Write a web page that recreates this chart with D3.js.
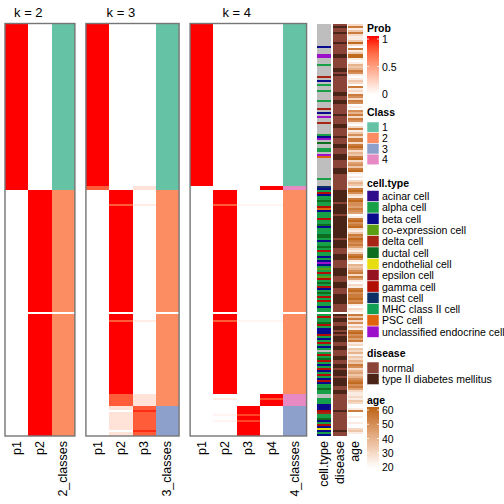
<!DOCTYPE html>
<html><head><meta charset="utf-8">
<script src="https://cdn.jsdelivr.net/npm/d3@7"></script>
<style>body{margin:0;background:#fff}svg{display:block}text{font-family:"Liberation Sans",Arial,sans-serif;fill:#000}</style>
</head><body><svg id="c" width="504" height="504"></svg>
<script>
// ---------- data ----------
const ks = [2, 3, 4];
const patternIds = ["A","B","C","D","E","F","G","H","I","Z"];
const k2Prob = [[1,0],[1,0],[0,1],[0,1],[0,1],[0,1],[0,1],[0,1],[0,1],null];
const k2Class = [1,1,2,2,2,2,2,2,2,null];
const k3Prob = [[1,0,0],[0.8,0,0.15],[0,1,0],[0,0.8,0.1],[0,0.8,0.15],[0,0.8,0.15],[0,0.15,0.8],[0,0,0.95],[0,0.15,0.8],null];
const k3Class = [1,1,2,2,2,2,3,3,3,null];
const k4Prob = [[1,0,0,0],[0,0,0,1],[0,1,0,0],[0,0.8,0.05,0.05],[0,0,0,1],[0,0.1,0,0.85],[0,0,1,0],[0,0,1,0],[0,0.06,0.88,0],null];
const k4Class = [1,4,2,2,4,4,3,3,3,null];
const rowPatternRuns = [["A",81],["B",2],["C",7],["D",1],["C",53],["Z",1],["C",3],["D",1],["C",36],
  ["E",2],["F",1],["E",3],["G",2],["H",1],["G",1],["I",1],["G",2],["I",1],["G",4],["H",1],["G",2]];

const cellTypeCodes = ["xxxxxxxxxxx","b","xxx","nn","xxx","l","xxxxx","d","x","b","x","l","xx","l","xxxx","l","xxx","d","x","b","x","n","xx","d","xxxxx","l","b","n","x","u","xx","ll","x","n","s","xxxxxxxxxx","l","xxx",
  "mblgbllull","gsblllgllu","bllhuulbll","ulgllblbnb","lclglcglul","gblulglgll","bll-lgllug","lbbbglblgl","blxlgluglb","lgblglbgbl","lullxxlhlb","bbgdllublg","beblb"].join("");
const cellTypeKeys = ["a","l","b","c","d","u","e","p","g","m","h","s","n"];
const cellTypeNames = ["acinar cell","alpha cell","beta cell","co-expression cell","delta cell","ductal cell","endothelial cell","epsilon cell","gamma cell","mast cell","MHC class II cell","PSC cell","unclassified endocrine cell"];
const cellTypeColors = ["#300C8C","#18A048","#0A0A8C","#5C9E14","#A82414","#0E6E20","#E6DE10","#961420","#B20E04","#0C3064","#12A054","#E0640E","#9C10CC"];

const diseaseCodes = ["NTNNT","NNNNT","NNNNN","TT","NNNNN","TT","N","T","NNNNNNNN","TT","NN","TT","NNNNN","T","NNNN","TT","NNNN","T","NNN","TT","NNN","TTT","NNNN","TTT","NNNNNN",
  "NN","TTTTTT","N","TTTTT","N","TTTTTTTTTTT","N","TTTT","NNN","TTT","NNNN","TTTT","NNN","TTT","NNN","TTTTT","NNNN","-","T","N","TT","NN","TT","N","T","N","TTT","NN","TT","NNN","TT","NN","TT","N","TTT","N","TTTT","NN","TT","NNNNNNNN","T","NNNNNNNNN","T","NN"].join("");
const diseaseKeys = ["N","T"];
const diseaseNames = ["normal","type II diabetes mellitus"];
const diseaseColors = ["#8B4538","#4B2418"];

const ageLevels = [20,25,30,35,40,45,50,55,60];
const ageCodes = ["2713721138","2071388101","4347610132","0712176276","0106472761","0271362772","7862437825","6378101024","3",
  "1786217866","5765017867","8213768767","5213786104","3467275102","1786778671","021-737261","3178675712","0324132437","6245346786","7521121320","0170010010","02310"].join("");
const ageTicks = [20,30,40,50,60];
const probTicks = [0,0.5,1];
const classLevels = [1,2,3,4];
const classColors = ["#66C2A5","#FC8D62","#8DA0CB","#E78AC3"];

// ---------- expand rows ----------
const rowPattern = [];
rowPatternRuns.forEach(([id,n]) => { for (let i=0;i<n;i++) rowPattern.push(patternIds.indexOf(id)); });
const N = rowPattern.length;

// ---------- drawing ----------
const svg = d3.select("#c");
const y = d3.scaleBand().domain(d3.range(N)).range([23.5, 436]);
const probColor = d3.scaleLinear().domain([0,1]).range(["#ffffff","#ff0000"]).interpolate(d3.interpolateLab).clamp(true);
const classColor = d3.scaleOrdinal().domain(classLevels).range(classColors);
const ctColor = d3.scaleOrdinal().domain(cellTypeKeys).range(cellTypeColors).unknown("#BEBEBE");
const disColor = d3.scaleOrdinal().domain(diseaseKeys).range(diseaseColors);
const ageColor = d3.scaleLinear().domain([20,60]).range(["#ffffff","#C06A1E"]).interpolate(d3.interpolateLab);

const probs = {2:k2Prob,3:k3Prob,4:k4Prob};
const classes = {2:k2Class,3:k3Class,4:k4Class};
const colW = 23.3, gap = 11;
let left = 5;
ks.forEach(k => {
  const cols = d3.range(1,k+1).map(i => "p"+i).concat([k+"_classes"]);
  const x = d3.scaleBand().domain(cols).range([left, left + cols.length*colW]);
  const g = svg.append("g");
  const cells = [];
  rowPattern.forEach((p, r) => {
    cols.forEach((c, j) => {
      let fill = "#ffffff";
      if (j < k) { const pr = probs[k][p]; if (pr) fill = probColor(pr[j]); }
      else { const cl = classes[k][p]; if (cl) fill = classColor(cl); }
      cells.push({r, c, fill});
    });
  });
  g.selectAll("rect").data(cells).join("rect")
    .attr("x", d => x(d.c)).attr("y", d => y(d.r))
    .attr("width", x.bandwidth()).attr("height", y.bandwidth() + 0.02)
    .attr("fill", d => d.fill).attr("shape-rendering","crispEdges");
  g.append("rect").attr("x", x.range()[0]).attr("y", y.range()[0])
    .attr("width", x.range()[1]-x.range()[0]).attr("height", y.range()[1]-y.range()[0])
    .attr("fill","none").attr("stroke","#767676").attr("stroke-width",1.4);
  const probMid = (x("p1") + x("p"+k) + x.bandwidth())/2;
  svg.append("text").attr("x", probMid).attr("y", 12).attr("text-anchor","middle")
    .attr("dominant-baseline","central").style("font-size","13px").text("k = " + k);
  cols.forEach(c => {
    svg.append("text").attr("transform", `translate(${x(c)+x.bandwidth()/2},441) rotate(-90)`)
      .attr("text-anchor","end").attr("dominant-baseline","central").style("font-size","12.5px").text(c);
  });
  left = x.range()[1] + gap;
});

// annotations
const annCols = ["cell.type","disease","age"];
const ax = d3.scaleBand().domain(annCols).range([317, 362.5]).paddingInner(0.07);
const annCells = [];
for (let r=0;r<N;r++) {
  const ct = cellTypeCodes[r], ds = diseaseCodes[r], ag = ageCodes[r];
  annCells.push({r, c:"cell.type", fill: ct === "-" ? "#ffffff" : ctColor(ct)});
  annCells.push({r, c:"disease", fill: ds === "-" ? "#ffffff" : disColor(ds)});
  annCells.push({r, c:"age", fill: ag === "-" ? "#ffffff" : ageColor(ageLevels[+ag])});
}
svg.append("g").selectAll("rect").data(annCells).join("rect")
  .attr("x", d => ax(d.c)).attr("y", d => y(d.r))
  .attr("width", ax.bandwidth()).attr("height", y.bandwidth() + 0.02)
  .attr("fill", d => d.fill).attr("shape-rendering","crispEdges");
annCols.forEach(c => {
  svg.append("text").attr("transform", `translate(${ax(c)+ax.bandwidth()/2},441) rotate(-90)`)
    .attr("text-anchor","end").attr("dominant-baseline","central").style("font-size","12.5px").text(c);
});

// ---------- legends ----------
const lx = 367, lw = 12, labX = 382, fs = "10.5px";
const lg = svg.append("g");
function title(t, yy) {
  lg.append("text").attr("x", lx).attr("y", yy).attr("dominant-baseline","central")
    .style("font-size","10.5px").style("font-weight","bold").text(t);
}
function gradient(id, scale, domain, y0, y1, yTop, yBot, ticks, fmt) {
  const defs = svg.append("defs");
  const grad = defs.append("linearGradient").attr("id", id).attr("x1",0).attr("x2",0).attr("y1",0).attr("y2",1);
  const ys = d3.scaleLinear().domain(domain).range([y0, y1]);
  d3.range(0, 1.0001, 0.1).forEach(t => {
    const yy = yTop + t*(yBot-yTop);
    grad.append("stop").attr("offset", t).attr("stop-color", scale(ys.invert(yy)));
  });
  lg.append("rect").attr("x", lx).attr("y", yTop).attr("width", lw).attr("height", yBot-yTop).attr("fill", `url(#${id})`);
  ticks.forEach(v => {
    lg.append("line").attr("x1", lx).attr("x2", lx+2).attr("y1", ys(v)).attr("y2", ys(v)).attr("stroke","#fff").attr("stroke-width",0.8);
    lg.append("line").attr("x1", lx+lw-2).attr("x2", lx+lw).attr("y1", ys(v)).attr("y2", ys(v)).attr("stroke","#fff").attr("stroke-width",0.8);
    lg.append("text").attr("x", labX).attr("y", ys(v)).attr("dominant-baseline","central").style("font-size",fs).text(fmt(v));
  });
}
title("Prob", 28);
gradient("gp", probColor, [1,0], 39, 94, 36, 95, probTicks, v => String(v));
title("Class", 112);
classLevels.forEach((c,i) => {
  const yy = 122 + i*10.7;
  lg.append("rect").attr("x", lx).attr("y", yy).attr("width", lw).attr("height", 10.7).attr("fill", classColor(c)).attr("stroke","#fff").attr("stroke-width",0.5);
  lg.append("text").attr("x", labX).attr("y", yy+5.35).attr("dominant-baseline","central").style("font-size",fs).text(c);
});
title("cell.type", 183);
cellTypeNames.forEach((n,i) => {
  const yy = 190.5 + i*11.3;
  lg.append("rect").attr("x", lx).attr("y", yy).attr("width", lw).attr("height", 11.3).attr("fill", cellTypeColors[i]).attr("stroke","#fff").attr("stroke-width",0.5);
  lg.append("text").attr("x", labX).attr("y", yy+5.65).attr("dominant-baseline","central").style("font-size",fs).text(n);
});
title("disease", 353);
diseaseNames.forEach((n,i) => {
  const yy = 362 + i*11.3;
  lg.append("rect").attr("x", lx).attr("y", yy).attr("width", lw).attr("height", 11.3).attr("fill", diseaseColors[i]).attr("stroke","#fff").attr("stroke-width",0.5);
  lg.append("text").attr("x", labX).attr("y", yy+5.65).attr("dominant-baseline","central").style("font-size",fs).text(n);
});
title("age", 400);
gradient("ga", ageColor, [60,20], 410, 467, 407, 469, ageTicks, v => String(v));
</script></body></html>
